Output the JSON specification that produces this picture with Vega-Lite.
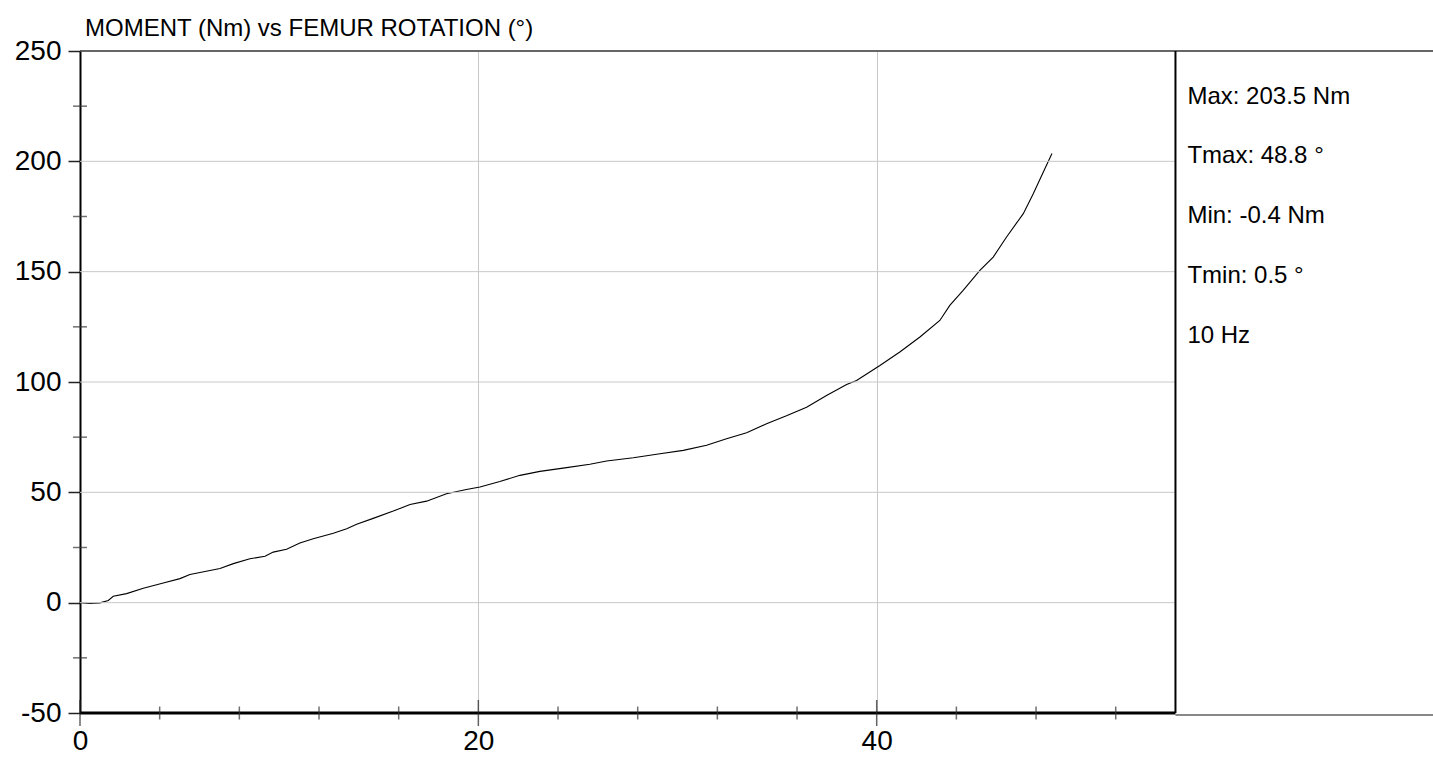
{
  "$schema": "https://vega.github.io/schema/vega-lite/v6.json",
  "width": 1353,
  "height": 662,
  "autosize": {"type": "none"},
  "padding": {"left": 80, "top": 51, "right": 0, "bottom": 46},
  "background": "white",
  "config": {"view": {"stroke": null}, "font": "Liberation Sans"},
  "title": {
    "text": "MOMENT (Nm) vs FEMUR ROTATION (°)",
    "anchor": "start",
    "frame": "group",
    "font": "Liberation Sans",
    "fontSize": 24,
    "fontWeight": "normal",
    "color": "black",
    "offset": -4,
    "dx": 5
  },
  "datasets": {
    "curve": [
      {"rot": 0, "moment": 0}, {"rot": 0.5, "moment": -0.4}, {"rot": 1.0, "moment": -0.1},
      {"rot": 1.42, "moment": 1.0}, {"rot": 1.67, "moment": 2.9}, {"rot": 2.34, "moment": 4.1},
      {"rot": 3.18, "moment": 6.5}, {"rot": 4.18, "moment": 8.9}, {"rot": 5.02, "moment": 10.9},
      {"rot": 5.52, "moment": 12.8}, {"rot": 7.03, "moment": 15.5}, {"rot": 7.7, "moment": 17.7},
      {"rot": 8.53, "moment": 19.9}, {"rot": 9.29, "moment": 21.0}, {"rot": 9.7, "moment": 22.9},
      {"rot": 10.37, "moment": 24.2}, {"rot": 11.04, "moment": 27.0}, {"rot": 11.71, "moment": 29.0},
      {"rot": 12.72, "moment": 31.5}, {"rot": 13.39, "moment": 33.5}, {"rot": 13.89, "moment": 35.5},
      {"rot": 14.72, "moment": 38.2}, {"rot": 15.73, "moment": 41.5}, {"rot": 16.57, "moment": 44.5},
      {"rot": 17.4, "moment": 46.0}, {"rot": 18.4, "moment": 49.4}, {"rot": 19.4, "moment": 51.3},
      {"rot": 20.08, "moment": 52.4}, {"rot": 21.08, "moment": 54.9}, {"rot": 22.09, "moment": 57.7},
      {"rot": 23.09, "moment": 59.5}, {"rot": 24.43, "moment": 61.2}, {"rot": 25.6, "moment": 62.7},
      {"rot": 26.44, "moment": 64.2}, {"rot": 27.78, "moment": 65.7}, {"rot": 29.12, "moment": 67.5},
      {"rot": 30.29, "moment": 69.0}, {"rot": 31.46, "moment": 71.3}, {"rot": 32.46, "moment": 74.3},
      {"rot": 33.47, "moment": 77.0}, {"rot": 34.47, "moment": 81.1}, {"rot": 35.47, "moment": 84.7},
      {"rot": 36.48, "moment": 88.6}, {"rot": 37.48, "moment": 93.9}, {"rot": 38.49, "moment": 98.9},
      {"rot": 38.99, "moment": 100.7}, {"rot": 40.16, "moment": 107.5}, {"rot": 41.16, "moment": 113.6},
      {"rot": 42.17, "moment": 120.4}, {"rot": 43.17, "moment": 127.9}, {"rot": 43.67, "moment": 134.7},
      {"rot": 44.34, "moment": 141.5}, {"rot": 45.18, "moment": 150.6}, {"rot": 45.85, "moment": 156.6},
      {"rot": 46.52, "moment": 165.7}, {"rot": 47.36, "moment": 176.3}, {"rot": 47.86, "moment": 185.3},
      {"rot": 48.36, "moment": 195.1}, {"rot": 48.8, "moment": 203.5}
    ],
    "hgrid": [{"v": 0}, {"v": 50}, {"v": 100}, {"v": 150}, {"v": 200}],
    "xminor": [{"v": 4}, {"v": 8}, {"v": 12}, {"v": 16}, {"v": 24}, {"v": 28}, {"v": 32}, {"v": 36}, {"v": 44}, {"v": 48}, {"v": 52}],
    "xmajor": [{"v": 0}, {"v": 20}, {"v": 40}],
    "yminor": [{"v": -25}, {"v": 25}, {"v": 75}, {"v": 125}, {"v": 175}, {"v": 225}],
    "stats": [
      {"label": "Max: 203.5 Nm", "pos": 225.8},
      {"label": "Tmax: 48.8 °", "pos": 199.1},
      {"label": "Min: -0.4 Nm", "pos": 172.0},
      {"label": "Tmin: 0.5 °", "pos": 144.8},
      {"label": "10 Hz", "pos": 117.5}
    ],
    "one": [{}]
  },
  "layer": [
    {
      "data": {"name": "curve"},
      "mark": {"type": "line", "color": "black", "strokeWidth": 1.1, "interpolate": "linear"},
      "encoding": {
        "x": {
          "field": "rot", "type": "quantitative", "title": null,
          "scale": {"domain": [0, 67.93], "nice": false, "zero": false},
          "axis": {
            "values": [0, 20, 40], "grid": true, "gridColor": "#c8c8c8", "gridWidth": 1,
            "domain": false, "ticks": false, "labelFontSize": 28, "labelPadding": 14,
            "labelFlush": false, "labelColor": "black", "labelFont": "Liberation Sans", "title": null,
            "labelExpr": "datum.value < 0 ? '-' + abs(datum.value) : '' + datum.value"
          }
        },
        "y": {
          "field": "moment", "type": "quantitative", "title": null,
          "scale": {"domain": [-50, 250], "nice": false, "zero": false},
          "axis": {
            "values": [-50, 0, 50, 100, 150, 200, 250], "grid": false,
            "domain": true, "domainColor": "black", "domainWidth": 2,
            "ticks": true, "tickSize": 12, "tickColor": "#222", "tickWidth": 1.5,
            "labelFontSize": 28, "labelPadding": 7, "labelColor": "black", "labelFlush": false,
            "labelFont": "Liberation Sans", "title": null,
            "labelExpr": "datum.value < 0 ? '-' + abs(datum.value) : '' + datum.value"
          }
        }
      }
    },
    {
      "data": {"name": "hgrid"},
      "mark": {"type": "rule", "color": "#c8c8c8", "strokeWidth": 1},
      "encoding": {
        "y": {"field": "v", "type": "quantitative", "title": null},
        "x": {"datum": 0, "type": "quantitative", "title": null},
        "x2": {"datum": 55}
      }
    },
    {
      "data": {"name": "one"},
      "mark": {"type": "rule", "color": "#333", "strokeWidth": 1.5},
      "encoding": {"y": {"datum": 250, "type": "quantitative", "title": null}, "x": {"datum": 0, "type": "quantitative", "title": null}, "x2": {"datum": 67.93}}
    },
    {
      "data": {"name": "one"},
      "mark": {"type": "rule", "color": "#888", "strokeWidth": 2, "yOffset": 2},
      "encoding": {"y": {"datum": -50, "type": "quantitative", "title": null}, "x": {"datum": 55, "type": "quantitative", "title": null}, "x2": {"datum": 67.93}}
    },
    {
      "data": {"name": "one"},
      "mark": {"type": "rule", "color": "black", "strokeWidth": 3},
      "encoding": {"y": {"datum": -50, "type": "quantitative", "title": null}, "x": {"datum": 0, "type": "quantitative", "title": null}, "x2": {"datum": 55}}
    },
    {
      "data": {"name": "one"},
      "mark": {"type": "rule", "color": "black", "strokeWidth": 2},
      "encoding": {"x": {"datum": 55, "type": "quantitative", "title": null}, "y": {"datum": -50, "type": "quantitative", "title": null}, "y2": {"datum": 250}}
    },
    {
      "data": {"name": "xminor"},
      "mark": {"type": "tick", "orient": "vertical", "color": "#333", "size": 13, "thickness": 1.5},
      "encoding": {"x": {"field": "v", "type": "quantitative", "title": null}, "y": {"datum": -50, "type": "quantitative", "title": null}}
    },
    {
      "data": {"name": "xmajor"},
      "mark": {"type": "tick", "orient": "vertical", "color": "#222", "size": 26, "thickness": 1.5},
      "encoding": {"x": {"field": "v", "type": "quantitative", "title": null}, "y": {"datum": -50, "type": "quantitative", "title": null}}
    },
    {
      "data": {"name": "yminor"},
      "mark": {"type": "tick", "orient": "horizontal", "color": "#333", "size": 14, "thickness": 1.5},
      "encoding": {"y": {"field": "v", "type": "quantitative", "title": null}, "x": {"datum": 0, "type": "quantitative", "title": null}}
    },
    {
      "data": {"name": "stats"},
      "mark": {"type": "text", "align": "left", "baseline": "alphabetic", "font": "Liberation Sans", "fontSize": 24, "color": "black"},
      "encoding": {
        "x": {"datum": 55.6, "type": "quantitative", "title": null},
        "y": {"field": "pos", "type": "quantitative", "title": null},
        "text": {"field": "label"}
      }
    }
  ]
}
